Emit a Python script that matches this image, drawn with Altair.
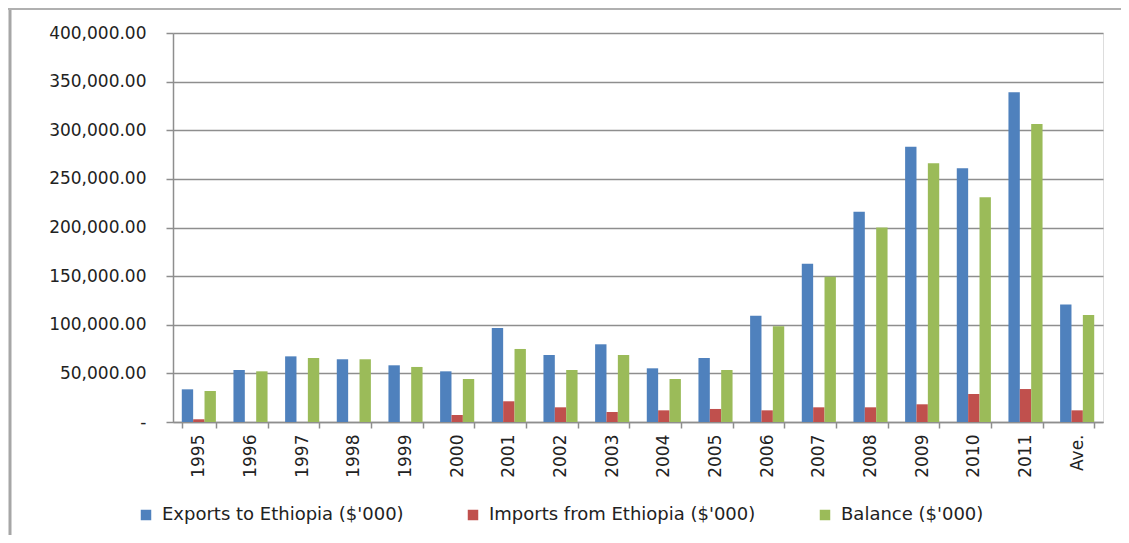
import altair as alt
import pandas as pd

years = ["1995", "1996", "1997", "1998", "1999", "2000", "2001", "2002", "2003",
         "2004", "2005", "2006", "2007", "2008", "2009", "2010", "2011", "Ave."]
exports = [33600, 53500, 67500, 64500, 58300, 52100, 96700, 68900, 79900,
           55200, 65800, 109300, 162700, 216300, 283000, 261000, 339000, 120800]
imports = [2800, 0, 0, 0, 0, 7200, 21300, 15100, 10300,
           12000, 13400, 12000, 15100, 15100, 18200, 28800, 33900, 12000]
balance = [31900, 52100, 65800, 64500, 56600, 44200, 75100, 53500, 68900,
           44200, 53500, 98400, 149400, 200000, 266000, 231000, 306500, 110000]
series_names = ["Exports to Ethiopia ($'000)", "Imports from Ethiopia ($'000)", "Balance ($'000)"]
series_colors = ["#4F81BD", "#C0504D", "#9BBB59"]
y_ticks = [0, 50000, 100000, 150000, 200000, 250000, 300000, 350000, 400000]

rows = []
for i, yr in enumerate(years):
    for name, vals in zip(series_names, [exports, imports, balance]):
        rows.append({"year": yr, "series": name, "value": vals[i]})
df = pd.DataFrame(rows)

FONT = "DejaVu Sans"
GRID = "#8e8e8e"
TXT = "#222222"

bars = alt.Chart(df).mark_bar().encode(
    x=alt.X("year:N", sort=years, title=None,
            scale=alt.Scale(paddingInner=0.34, paddingOuter=0.17),
            axis=alt.Axis(labelAngle=-90, labelFont=FONT, labelFontSize=17,
                          labelColor=TXT, labelPadding=6, tickBand="extent",
                          tickSize=6, tickColor=GRID, domainColor=GRID,
                          domainWidth=1.5, tickWidth=1.5, grid=False)),
    xOffset=alt.XOffset("series:N", sort=series_names,
                        scale=alt.Scale(paddingInner=0, paddingOuter=0)),
    y=alt.Y("value:Q", title=None,
            scale=alt.Scale(domain=[0, 400000], nice=False),
            axis=alt.Axis(values=y_ticks, labelFont=FONT, labelFontSize=17,
                          labelColor=TXT, labelPadding=20, tickSize=7,
                          tickColor=GRID, tickWidth=1.5, domainColor=GRID,
                          domainWidth=1.5, gridColor=GRID, gridWidth=1.5,
                          labelExpr="datum.value == 0 ? '-\u00a0\u00a0' : format(datum.value, ',.2f')")),
    color=alt.Color("series:N", sort=series_names,
                    scale=alt.Scale(domain=series_names, range=series_colors),
                    legend=alt.Legend(title=None, orient="none", direction="horizontal",
                                      legendX=-36, legendY=473, columns=3,
                                      columnPadding=60, symbolType="square",
                                      symbolSize=110, symbolStrokeWidth=0,
                                      labelFont=FONT, labelFontSize=18, labelLimit=500,
                                      labelColor=TXT, labelOffset=7,
                                      padding=0)),
)

frame_data = alt.Data(values=[{"k": 1}])
left_border = alt.Chart(frame_data).mark_rule(color="#a6a6a6", strokeWidth=3).encode(
    x=alt.value(-163), y=alt.value(-25), y2=alt.value(502))
top_border = alt.Chart(frame_data).mark_rule(color="#b0b0b0", strokeWidth=2).encode(
    x=alt.value(-165), x2=alt.value(960), y=alt.value(-24))

chart = alt.layer(bars, left_border, top_border).properties(
    width=930, height=389, autosize="none",
    padding={"left": 165, "top": 25, "right": 18, "bottom": 113},
).configure_view(stroke=None).configure(background="white")

chart.save("out.html", embed_options={"renderer": "svg", "actions": False})
